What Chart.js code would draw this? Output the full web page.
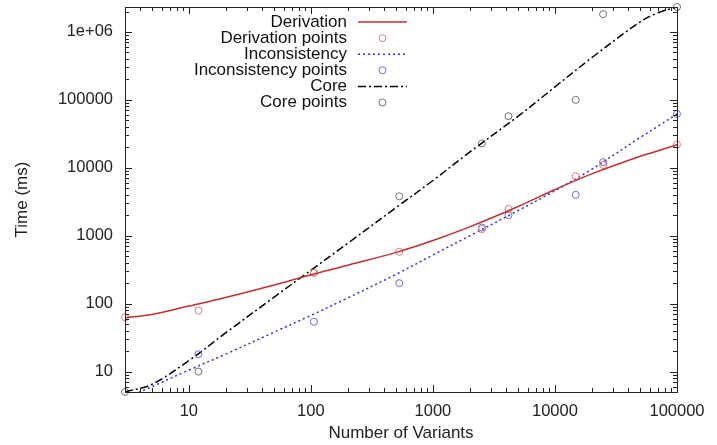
<!DOCTYPE html>
<html>
<head>
<meta charset="utf-8">
<script src="https://cdn.jsdelivr.net/npm/chart.js@4"></script>
<style>
  html, body { margin: 0; padding: 0; background: #fff; }
  #wrap { width: 717px; height: 445px; }
</style>
</head>
<body>
<div id="wrap"><canvas id="graph" width="717" height="445"></canvas></div>
<script>
const canv = /**@type {HTMLCanvasElement}*/(document.getElementById("graph"))
const ctx = canv.getContext("2d")

// measured points (number of variants -> time in ms)
const variants = [3, 12, 106, 530, 2520, 4160, 14800, 24800, 100000]
const derivationPts = [63, 79, 285, 580, 1250, 2490, 7550, 11000, 22000]
const inconsistencyPts = [null, 18, 54, 200, 1320, 2000, 4000, 12100, 62000]
const corePts = [5, 10, 285, 3800, 22800, 57500, 100000, 1830000, 2330000]

// fitted curves
const curveX = [3, 5, 10, 20, 50, 100, 200, 500, 1000, 2000, 5000, 10000, 20000, 50000, 70000, 100000]
const derivationCurve = [62, 69, 92, 123, 188, 266, 367, 569, 851, 1349, 2692, 4786, 8128, 14791, 17800, 21900]
const inconsistencyCurve = [4.0, 6.0, 10.5, 18, 38, 67, 121, 270, 520, 995, 2350, 4600, 9500, 28000, 41000, 62000]
const coreCurve = [5, 6.5, 14.5, 37, 125, 310, 770, 2600, 6500, 17000, 57500, 155000, 417000, 1410000, 1920000, 2330000]

const xTicks = [10, 100, 1000, 10000, 100000]
const yTicks = [10, 100, 1000, 10000, 100000, 1000000]

const FONT = "'Liberation Sans', Arial, sans-serif"

function pairs(xs, ys) {
    return xs.map((x, i) => ({x: x, y: ys[i]})).filter(p => p.y != null)
}

function lineSet(label, ys, color, dash) {
    return {
        label: label, data: pairs(curveX, ys), showLine: true,
        borderColor: color, borderWidth: 1.5, borderDash: dash,
        pointRadius: 0, tension: 0.35, clip: 0
    }
}

function pointSet(label, ys, color) {
    return {
        label: label, data: pairs(variants, ys), showLine: false,
        borderColor: color, backgroundColor: 'rgba(0,0,0,0)', borderWidth: 1,
        pointRadius: 3.5, pointHoverRadius: 3.5, clip: 5
    }
}

// gnuplot style frame with inward ticks on all four sides
const frame = {
    id: 'frame',
    afterDraw(chart) {
        const c = chart.ctx, a = chart.chartArea
        const xs = chart.scales.x, ys = chart.scales.y
        c.save()
        c.strokeStyle = '#222'
        c.lineWidth = 1
        c.strokeRect(Math.round(a.left) + 0.5, Math.round(a.top) + 0.5, Math.round(a.right - a.left), Math.round(a.bottom - a.top))
        c.beginPath()
        for (let n = 0; n <= 6; n++) {
            for (let k = 1; k <= 9; k++) {
                const v = k * Math.pow(10, n)
                const len = k === 1 ? 7 : 4
                if (v >= xs.min && v <= xs.max) {
                    const px = Math.round(xs.getPixelForValue(v)) + 0.5
                    c.moveTo(px, a.bottom); c.lineTo(px, a.bottom - len)
                    c.moveTo(px, a.top); c.lineTo(px, a.top + len)
                }
                if (v >= ys.min && v <= ys.max) {
                    const py = Math.round(ys.getPixelForValue(v)) + 0.5
                    c.moveTo(a.left, py); c.lineTo(a.left + len, py)
                    c.moveTo(a.right, py); c.lineTo(a.right - len, py)
                }
            }
        }
        c.stroke()
        c.restore()
    }
}

// key in the upper left, text right aligned, sample to the right
const key = {
    id: 'key',
    afterDatasetsDraw(chart) {
        const c = chart.ctx
        const textRight = 347, sx0 = 358, sx1 = 407
        c.save()
        c.font = '17px ' + FONT
        c.textAlign = 'right'
        c.textBaseline = 'middle'
        chart.data.datasets.forEach((ds, i) => {
            const y = 22 + i * 16.1
            c.fillStyle = '#111'
            c.fillText(ds.label, textRight, y)
            c.strokeStyle = ds.borderColor
            if (ds.showLine) {
                c.lineWidth = ds.borderWidth
                c.setLineDash(ds.borderDash || [])
                c.beginPath(); c.moveTo(sx0, y); c.lineTo(sx1, y); c.stroke()
                c.setLineDash([])
            } else {
                c.lineWidth = 1
                c.beginPath(); c.arc((sx0 + sx1) / 2, y, 3.5, 0, Math.PI * 2); c.stroke()
            }
        })
        c.restore()
    }
}

new Chart(ctx, {
    type: 'scatter',
    data: {
        datasets: [
            lineSet('Derivation', derivationCurve, '#c03030', []),
            pointSet('Derivation points', derivationPts, '#e07a7a'),
            lineSet('Inconsistency', inconsistencyCurve, '#2d2ddc', [2, 3]),
            pointSet('Inconsistency points', inconsistencyPts, '#6a6ae6'),
            lineSet('Core', coreCurve, '#000000', [8, 3, 2, 3]),
            pointSet('Core points', corePts, '#6e6e6e')
        ]
    },
    plugins: [frame, key],
    options: {
        responsive: false,
        animation: false,
        devicePixelRatio: 1,
        layout: { padding: { left: 0, right: 40, top: 7, bottom: 0 } },
        plugins: { legend: { display: false }, tooltip: { enabled: false } },
        scales: {
            x: {
                type: 'logarithmic', min: 3, max: 100000,
                afterFit: s => { s.height = 53; s.paddingLeft = 0; s.paddingRight = 0 },
                afterBuildTicks: s => { s.ticks = xTicks.map(v => ({value: v})) },
                grid: { display: false, drawTicks: false }, border: { display: false },
                ticks: {
                    autoSkip: false, maxRotation: 0, padding: 10,
                    color: '#222', font: { family: FONT, size: 16.5 },
                    callback: v => String(v)
                },
                title: {
                    display: true, text: 'Number of Variants', color: '#222',
                    font: { family: FONT, size: 17 }, padding: { top: 0, bottom: 1 }
                }
            },
            y: {
                type: 'logarithmic', min: 5, max: 2330000,
                afterFit: s => { s.width = 125; s.paddingTop = 0; s.paddingBottom = 0 },
                afterBuildTicks: s => { s.ticks = yTicks.map(v => ({value: v})) },
                grid: { display: false, drawTicks: false }, border: { display: false },
                ticks: {
                    autoSkip: false, padding: 12,
                    color: '#222', font: { family: FONT, size: 16.5 },
                    callback: v => v >= 1000000 ? '1e+06' : String(v)
                },
                title: {
                    display: true, text: 'Time (ms)', color: '#222',
                    font: { family: FONT, size: 17 }, padding: { top: 12, bottom: 0 }
                }
            }
        }
    }
})
</script>
</body>
</html>
